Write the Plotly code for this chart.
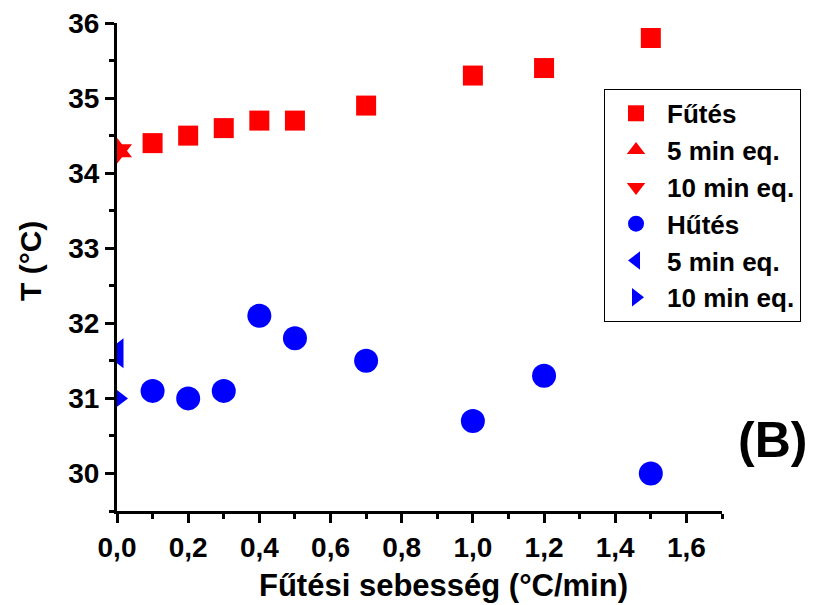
import plotly.graph_objects as go

# Data
heat_x = [0.1, 0.2, 0.3, 0.4, 0.5, 0.7, 1.0, 1.2, 1.5]
heat_y = [34.4, 34.5, 34.6, 34.7, 34.7, 34.9, 35.3, 35.4, 35.8]
heat5_x = [0.0]
heat5_y = [34.3]
heat10_x = [0.0]
heat10_y = [34.3]
cool_x = [0.1, 0.2, 0.3, 0.4, 0.5, 0.7, 1.0, 1.2, 1.5]
cool_y = [31.1, 31.0, 31.1, 32.1, 31.8, 31.5, 30.7, 31.3, 30.0]
cool5_x = [0.0]
cool5_y = [31.6]
cool10_x = [0.0]
cool10_y = [31.0]

x_ticks = [0.0, 0.2, 0.4, 0.6, 0.8, 1.0, 1.2, 1.4, 1.6]
x_tick_labels = ["0,0", "0,2", "0,4", "0,6", "0,8", "1,0", "1,2", "1,4", "1,6"]
y_ticks = [30, 31, 32, 33, 34, 35, 36]
y_tick_labels = ["30", "31", "32", "33", "34", "35", "36"]

RED = "#ff0000"
BLUE = "#0000ff"

fig = go.Figure()
fig.add_trace(go.Scatter(x=heat_x, y=heat_y, mode="markers", name="Fűtés",
                         marker=dict(symbol="square", size=20, color=RED)))
fig.add_trace(go.Scatter(x=heat5_x, y=heat5_y, mode="markers", name="5 min eq.",
                         marker=dict(symbol="triangle-up", size=26, color=RED)))
fig.add_trace(go.Scatter(x=heat10_x, y=heat10_y, mode="markers", name="10 min eq.",
                         marker=dict(symbol="triangle-down", size=26, color=RED)))
fig.add_trace(go.Scatter(x=cool_x, y=cool_y, mode="markers", name="Hűtés",
                         marker=dict(symbol="circle", size=24, color=BLUE)))
fig.add_trace(go.Scatter(x=cool5_x, y=cool5_y, mode="markers", name="5 min eq.",
                         marker=dict(symbol="triangle-left", size=26, color=BLUE)))
fig.add_trace(go.Scatter(x=cool10_x, y=cool10_y, mode="markers", name="10 min eq.",
                         marker=dict(symbol="triangle-right", size=22, color=BLUE)))

font_family = "Liberation Sans, Arial, sans-serif"

fig.update_layout(
    width=815, height=605,
    margin=dict(l=117, r=93, t=23, b=94, autoexpand=False),
    paper_bgcolor="white", plot_bgcolor="white",
    font=dict(family=font_family, color="black"),
    showlegend=True,
    legend=dict(x=0.805, y=0.865, xanchor="left", yanchor="top",
                bordercolor="black", borderwidth=1, bgcolor="white",
                font=dict(size=26, family=font_family, weight="bold"),
                itemwidth=52, tracegroupgap=0),
    annotations=[
        dict(text="<b>(B)</b>", x=1.083, y=0.145, xref="paper", yref="paper",
             xanchor="center", yanchor="middle", showarrow=False,
             font=dict(size=50, family=font_family)),
        dict(text="<b>Fűtési sebesség (°C/min)</b>", x=(443 - 117) / 605, y=-(585 - 511) / 488,
             xref="paper", yref="paper", xanchor="center", yanchor="middle", showarrow=False,
             font=dict(size=31, family=font_family)),
        dict(text="<b>T (°C)</b>", x=-(117 - 30) / 605, y=(511 - 261) / 488,
             xref="paper", yref="paper", xanchor="center", yanchor="middle", showarrow=False,
             textangle=-90, font=dict(size=30, family=font_family)),
    ],
)

fig.update_xaxes(
    range=[0, 1.7], tickvals=x_ticks, ticktext=["<b>%s</b>" % t for t in x_tick_labels],
    showline=True, linecolor="black", linewidth=3,
    ticks="outside", ticklen=9, tickwidth=3, tickcolor="black",
    minor=dict(ticks="outside", ticklen=5, tickwidth=3, tickcolor="black", dtick=0.1),
    showgrid=False, zeroline=False,
    tickfont=dict(size=28, family=font_family, weight="bold"),
)
fig.update_yaxes(
    range=[29.5, 36], tickvals=y_ticks, ticktext=["<b>%s</b>" % t for t in y_tick_labels],
    showline=True, linecolor="black", linewidth=3,
    ticks="outside", ticklen=9, tickwidth=3, tickcolor="black",
    minor=dict(ticks="outside", ticklen=5, tickwidth=3, tickcolor="black", dtick=0.5),
    showgrid=False, zeroline=False,
    tickfont=dict(size=28, family=font_family, weight="bold"),
)

fig.write_html("out.html")
